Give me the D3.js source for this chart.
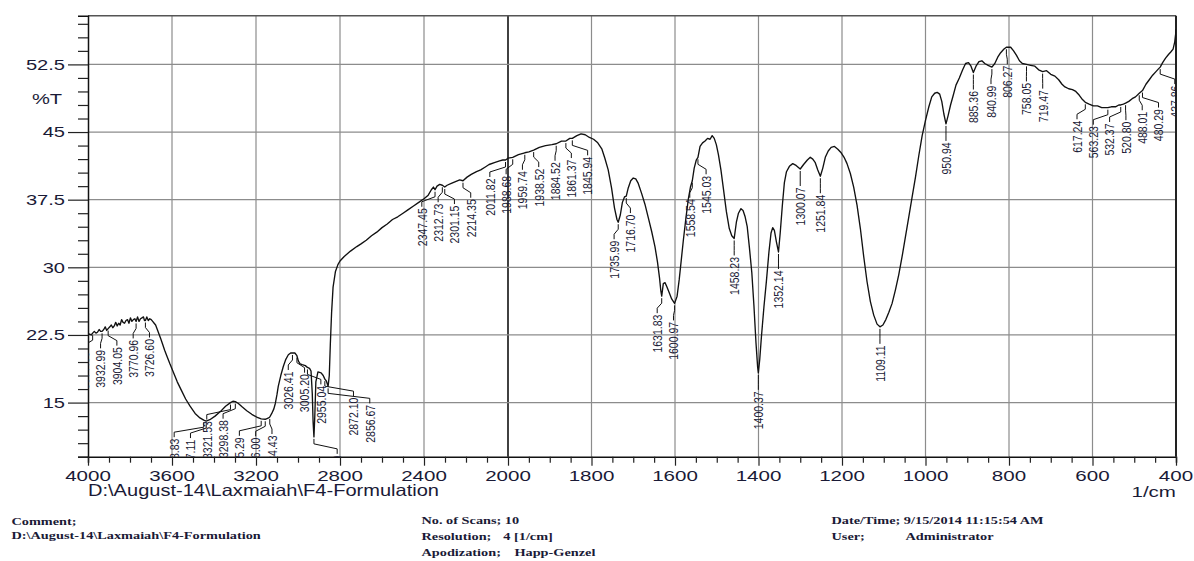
<!DOCTYPE html>
<html>
<head>
<meta charset="utf-8">
<script src="https://cdn.jsdelivr.net/npm/d3@7"></script>
<style>
  body { margin: 0; background: #fff; }
  svg text { font-family: "Liberation Sans", Arial, sans-serif; fill: #1a1a36; }
  svg text.meta { font-family: "Liberation Serif", "Times New Roman", serif; font-weight: bold; font-size: 11px; }
</style>
</head>
<body>
<svg id="chart" width="1194" height="561"></svg>
<script>
// FTIR spectrum, F4 formulation: wavenumber (1/cm) and transmittance (%T)
const wavenumber = [
  4000, 3992, 3985, 3977.88, 3970, 3962, 3955, 3947, 3940, 3932.99, 3925, 3918, 3911, 3904.05,
  3896, 3889, 3882, 3875, 3868, 3861, 3854, 3847, 3840, 3833, 3826, 3819, 3812, 3805, 3798,
  3791, 3784, 3777, 3770.96, 3764, 3757, 3750, 3743, 3736, 3731, 3726.60, 3720, 3713, 3706,
  3699, 3692, 3685, 3678, 3670, 3662, 3654, 3645, 3635, 3625, 3610, 3594, 3575, 3554, 3535,
  3514, 3490, 3467, 3448.83, 3437.11, 3420, 3395, 3370, 3345, 3321.53, 3310, 3298.38, 3284,
  3265, 3244, 3220, 3197, 3175.29, 3156.00, 3140, 3134.43, 3125, 3115, 3108, 3100, 3094, 3082,
  3070, 3058, 3046, 3035, 3026.41, 3015, 3005.20, 2998, 2990, 2980, 2965, 2955.04, 2945, 2938,
  2932, 2928, 2924.09, 2920, 2915, 2905, 2890, 2880, 2872.10, 2865, 2856.67, 2851, 2846, 2840,
  2833, 2822, 2810, 2800, 2780, 2750, 2720, 2700, 2675, 2650, 2625, 2600, 2575, 2550, 2525,
  2500, 2475, 2450, 2425, 2400, 2380, 2365, 2355, 2347.45, 2338, 2325, 2312.73, 2301.15, 2290,
  2270, 2250, 2230, 2214.35, 2195, 2175, 2150, 2130, 2110, 2090, 2065, 2040, 2025, 2011.82,
  2000, 1988.68, 1975, 1959.74, 1950, 1938.52, 1925, 1910, 1895, 1884.52, 1872, 1861.37, 1852,
  1845.94, 1835, 1825, 1815, 1805, 1795, 1785, 1775, 1768, 1760, 1752, 1745, 1739, 1735.99,
  1731, 1726, 1721, 1716.70, 1712, 1706, 1700, 1694, 1688, 1680, 1672, 1664, 1656, 1648, 1642,
  1637, 1634, 1631.83, 1628, 1624, 1620, 1614, 1608, 1600.97, 1595, 1590, 1585, 1580, 1574,
  1568, 1563, 1558.54, 1554, 1549, 1545.03, 1540, 1534, 1528, 1522, 1516, 1511, 1506, 1501,
  1496, 1490, 1484, 1477, 1470, 1464, 1458.23, 1453, 1448, 1442, 1437, 1432, 1427, 1422, 1416,
  1411, 1406, 1402, 1400.37, 1397, 1393, 1387, 1381, 1375, 1370, 1366, 1362, 1357, 1352.14,
  1348, 1343, 1338, 1333, 1326, 1318, 1310, 1300.07, 1292, 1283, 1276, 1270, 1264, 1258,
  1251.84, 1246, 1240, 1233, 1226, 1218, 1210, 1202, 1195, 1188, 1180, 1172, 1164, 1156, 1148,
  1140, 1132, 1124, 1116, 1109.11, 1102, 1095, 1088, 1080, 1072, 1064, 1056, 1048, 1040, 1032,
  1024, 1016, 1008, 1000, 992, 985, 978, 972, 966, 961, 956, 950.94, 946, 940, 934, 927, 919,
  911, 904, 897, 891, 885.36, 879, 872, 865, 858, 850, 840.99, 834, 827, 820, 812, 806.27, 796,
  789, 782, 775, 768, 758.05, 748, 738, 729, 719.47, 710, 700, 690, 681, 673, 666, 657, 648,
  640, 632, 624, 617.24, 608, 598, 588, 578, 568, 563.23, 555, 545, 537, 532.37, 526, 520.80,
  513, 505, 497, 488.01, 480.29, 472, 464, 456, 448, 442, 437.86, 432, 425, 418, 412, 407, 403,
  401, 400
];
const transmittance = [
  22.5, 22.6, 22.5, 22.7, 22.9, 22.7, 22.8, 23.1, 22.9, 22.9, 23.1, 23.4, 23.0, 23.2,
  23.4, 23.6, 23.3, 23.5, 23.9, 23.5, 23.8, 23.6, 24.2, 23.9, 23.8, 24.1, 24.2, 23.8, 24.4,
  24.0, 24.2, 24.3, 24.0, 24.5, 24.0, 24.3, 24.4, 24.5, 24.1, 24.1, 24.5, 24.1, 24.3,
  24.2, 24.0, 23.8, 23.6, 23.1, 22.6, 22.1, 21.5, 20.8, 20.2, 19.3, 18.4, 17.3, 16.3, 15.4,
  14.6, 13.8, 13.3, 13.05, 12.95, 13.1, 13.5, 14.0, 14.6, 15.0, 15.15, 15.1, 14.9,
  14.5, 14.1, 13.7, 13.4, 13.2, 13.15, 13.3, 13.4, 13.8, 14.3, 14.9, 15.9, 16.8, 18.0,
  19.0, 19.8, 20.3, 20.5, 20.5, 20.5, 20.2, 19.6, 19.3, 19.2, 19.1, 18.9, 18.8, 18.5,
  16.0, 12.8, 11.2, 13.5, 17.3, 18.4, 18.3, 18.0, 17.6, 17.4, 16.8, 18.0, 21.5, 25.0,
  27.8, 29.5, 30.3, 30.7, 31.2, 31.8, 32.3, 32.6, 33.0, 33.5, 33.9, 34.4, 34.8, 35.3, 35.6,
  36.0, 36.4, 36.8, 37.2, 37.6, 38.0, 38.6, 38.9, 38.6, 39.0, 39.2, 39.1, 38.9, 39.1,
  39.3, 39.5, 39.7, 39.6, 40.0, 40.3, 40.6, 40.8, 41.1, 41.4, 41.6, 41.8, 41.9, 41.9,
  42.1, 42.2, 42.5, 42.7, 42.8, 43.0, 43.3, 43.5, 43.6, 43.7, 44.0, 44.0, 44.3,
  44.3, 44.6, 44.8, 44.7, 44.4, 44.2, 43.8, 43.1, 42.1, 40.8, 38.8, 36.6, 35.3, 35.0,
  35.8, 37.2, 37.8, 37.9, 38.8, 39.6, 39.9, 39.8, 39.3, 38.2, 37.0, 35.5, 34.0, 32.3, 30.6,
  28.8, 27.4, 26.8, 28.2, 28.3, 27.9, 27.2, 26.5, 26.0, 26.8, 28.6, 30.8, 33.0, 35.4,
  37.6, 38.9, 39.6, 41.0, 41.9, 42.2, 43.4, 43.8, 44.0, 44.3, 44.2, 44.6, 44.3, 43.6,
  42.5, 40.8, 38.7, 36.2, 34.3, 33.5, 33.2, 35.0, 36.0, 36.5, 36.3, 35.6, 34.5, 32.3, 29.4,
  25.8, 21.6, 18.9, 18.3, 19.8, 22.3, 25.6, 28.5, 31.7, 33.8, 34.4, 34.1, 32.8, 31.7,
  33.8, 36.8, 39.4, 40.6, 41.2, 41.5, 41.3, 40.9, 41.4, 41.9, 42.2, 42.0, 41.6, 40.8,
  40.1, 41.0, 42.2, 42.9, 43.3, 43.4, 43.1, 42.7, 42.2, 41.5, 40.4, 38.9, 36.9, 34.3, 31.2,
  28.4, 26.2, 24.7, 23.7, 23.4, 23.6, 24.2, 25.0, 26.0, 27.5, 29.2, 31.2, 33.4, 35.6, 37.8,
  40.0, 42.4, 44.6, 46.3, 47.8, 48.9, 49.3, 49.4, 49.2, 48.4, 47.0, 45.9, 46.8, 48.0, 49.0, 50.2, 51.0,
  51.9, 52.6, 52.7, 52.3, 51.6, 52.3, 52.8, 52.9, 52.6, 52.4, 52.2, 52.6, 53.3, 53.8, 54.2, 54.4, 54.4,
  54.0, 53.5, 52.9, 52.6, 52.5, 52.4, 52.3, 51.9, 51.7, 51.8, 51.4, 51.2, 50.8, 50.3, 50.0, 49.8, 49.7,
  49.5, 49.1, 48.6, 48.3, 48.1, 47.9, 47.9, 47.7, 47.7, 47.7, 47.8, 47.8, 48.0, 48.0, 48.1, 48.2,
  48.4, 48.7, 48.9, 49.3, 49.6, 50.3, 50.8, 51.3, 51.7, 52.0, 52.2, 52.7, 53.2, 53.6, 53.9, 54.2, 55.0,
  55.8, 56.4
];

// Peak picks printed by the instrument software
const peakLabels = [
  "3977.88", "3932.99", "3904.05", "3770.96", "3726.60", "3448.83", "3437.11", "3321.53",
  "3298.38", "3175.29", "3156.00", "3134.43", "3026.41", "3005.20", "2955.04", "2924.09",
  "2872.10", "2856.67", "2347.45", "2312.73", "2301.15", "2214.35", "2011.82", "1988.68",
  "1959.74", "1938.52", "1884.52", "1861.37", "1845.94", "1735.99", "1716.70", "1631.83",
  "1600.97", "1558.54", "1545.03", "1458.23", "1400.37", "1352.14", "1300.07", "1251.84",
  "1109.11", "950.94", "885.36", "840.99", "806.27", "758.05", "719.47", "617.24", "563.23",
  "532.37", "520.80", "488.01", "480.29", "437.86"
];

const xTickValues = [4000, 3600, 3200, 2800, 2400, 2000, 1800, 1600, 1400, 1200, 1000, 800, 600, 400];
const yTickValues = [15, 22.5, 30, 37.5, 45, 52.5];
const yMinorStep = 1.5;

const svg = d3.select("#chart");
const pLeft = 88, pRight = 1176, pTop = 15.7, pBottom = 456.7;

// Two-segment wavenumber axis: 2x expansion below 2000 1/cm
const x = d3.scaleLinear().domain([4000, 2000, 400]).range([pLeft, 508, pRight]);
const y = d3.scaleLinear().domain([9, 57.9]).range([pBottom, pTop]);

svg.append("defs").append("clipPath").attr("id", "plotClip")
  .append("rect").attr("x", pLeft).attr("y", pTop).attr("width", pRight - pLeft).attr("height", pBottom - pTop);

// grid
const grid = svg.append("g");
xTickValues.filter(v => v !== 4000 && v !== 400).forEach(v => {
  grid.append("line")
    .attr("x1", x(v)).attr("x2", x(v)).attr("y1", pTop).attr("y2", pBottom)
    .attr("stroke", v === 2000 ? "#111" : "#8c8c8c")
    .attr("stroke-width", v === 2000 ? 1.6 : 1.2);
});
yTickValues.forEach(v => {
  grid.append("line")
    .attr("x1", pLeft).attr("x2", pRight).attr("y1", y(v)).attr("y2", y(v))
    .attr("stroke", "#8c8c8c").attr("stroke-width", 1.2);
});

// frame
svg.append("line").attr("x1", pLeft).attr("x2", pRight).attr("y1", pTop).attr("y2", pTop)
  .attr("stroke", "#555").attr("stroke-width", 1.4);
svg.append("line").attr("x1", pRight).attr("x2", pRight).attr("y1", pTop).attr("y2", pBottom)
  .attr("stroke", "#222").attr("stroke-width", 2);

// y axis with minor ticks
const yMinor = d3.range(9, 57.9 + 1e-6, yMinorStep);
const yAxis = d3.axisLeft(y).tickValues(yMinor).tickSize(10).tickFormat("");
const gy = svg.append("g").attr("transform", `translate(${pLeft},0)`).call(yAxis);
gy.select(".domain").attr("stroke", "#111").attr("stroke-width", 1.5);
gy.selectAll(".tick line").attr("stroke", "#222").attr("stroke-width", 1.2)
  .attr("x2", d => yTickValues.includes(+d.toFixed(1)) ? -20 : -10);
yTickValues.forEach(v => {
  svg.append("text").attr("transform", `translate(65,${y(v) + 5.3}) scale(1.34,1)`)
    .attr("text-anchor", "end").attr("font-size", 15).text(v);
});
svg.append("text").attr("transform", `translate(62,104) scale(1.34,1)`)
  .attr("text-anchor", "end").attr("font-size", 15).text("%T");

// x axis: minor ticks every 100 above 2000, every 50 below
const xMinor = d3.range(4000, 2000, -100).concat(d3.range(2000, 399, -50));
const xAxis = d3.axisBottom(x).tickValues(xMinor).tickSize(6).tickFormat("");
const gx = svg.append("g").attr("transform", `translate(0,${pBottom})`).call(xAxis);
gx.select(".domain").attr("stroke", "#111").attr("stroke-width", 1.5);
gx.selectAll(".tick line").attr("stroke", "#222").attr("stroke-width", 1.2)
  .attr("y2", d => xTickValues.includes(d) ? 9 : 6);
xTickValues.forEach(v => {
  svg.append("text").attr("transform", `translate(${x(v)},480.5) scale(1.37,1)`)
    .attr("text-anchor", "middle").attr("font-size", 15).text(v);
});
svg.append("text").attr("transform", `translate(${pRight},497) scale(1.37,1)`)
  .attr("text-anchor", "end").attr("font-size", 15).text("1/cm");
svg.append("text").attr("x", pLeft).attr("y", 495.5).attr("font-size", 16.5)
  .attr("textLength", 351).attr("lengthAdjust", "spacingAndGlyphs")
  .text("D:\\August-14\\Laxmaiah\\F4-Formulation");

// spectrum
const points = wavenumber.map((w, i) => [w, transmittance[i]]);
const plot = svg.append("g").attr("clip-path", "url(#plotClip)");
plot.append("path").datum(points)
  .attr("fill", "none").attr("stroke", "#111").attr("stroke-width", 1.35)
  .attr("stroke-linejoin", "round")
  .attr("d", d3.line().x(d => x(d[0])).y(d => y(d[1])));

// peak labels: spread horizontally so neighbouring labels do not collide
function spread(xs, gap) {
  let clusters = xs.map((v, i) => ({ ids: [i], sum: v }));
  const start = c => c.sum / c.ids.length - (c.ids.length - 1) * gap / 2;
  let merged = true;
  while (merged) {
    merged = false;
    for (let i = 0; i < clusters.length - 1; i++) {
      const a = clusters[i], b = clusters[i + 1];
      if (start(a) + a.ids.length * gap > start(b)) {
        clusters.splice(i, 2, { ids: a.ids.concat(b.ids), sum: a.sum + b.sum });
        merged = true;
        break;
      }
    }
  }
  const out = [];
  clusters.forEach(c => { const s = start(c); c.ids.forEach((id, k) => out[id] = s + k * gap); });
  return out;
}

const interpT = w => {
  for (let i = 0; i < wavenumber.length - 1; i++) {
    const a = wavenumber[i], b = wavenumber[i + 1];
    if (w <= a && w >= b) {
      const t = (a - w) / (a - b);
      return transmittance[i] + t * (transmittance[i + 1] - transmittance[i]);
    }
  }
  return transmittance[transmittance.length - 1];
};

const peaks = peakLabels.map(s => ({ text: s, w: +s }))
  .map(p => ({ ...p, px: x(p.w), py: y(interpT(p.w)) }));
const lxs = spread(peaks.map(p => p.px), 16.3);
peaks.forEach((p, i) => {
  const lx = lxs[i];
  plot.append("path")
    .attr("fill", "none").attr("stroke", "#111").attr("stroke-width", 1)
    .attr("d", `M${p.px},${p.py + 2}L${p.px},${p.py + 7}L${lx},${p.py + 12}L${lx},${p.py + 17}`);
  plot.append("text")
    .attr("transform", `translate(${lx + 0.2},${p.py + 18.5}) scale(1.22,1) rotate(-90)`)
    .attr("text-anchor", "end").attr("dy", "0.36em").attr("font-size", 10.5)
    .text(p.text);
});

// acquisition details, three columns
const metaScale = 1.3;
function metaColumn(x0) {
  return svg.append("g").attr("transform", `translate(${x0},0) scale(${metaScale},1)`);
}
function metaText(g, tx, ty, s) {
  return g.append("text").attr("class", "meta").attr("x", tx).attr("y", ty).text(s);
}
const col1 = metaColumn(11.5);
metaText(col1, 0, 525, "Comment;");
metaText(col1, 0, 539, "D:\\August-14\\Laxmaiah\\F4-Formulation");

const col2 = metaColumn(421.5);
metaText(col2, 0, 524, "No. of Scans; 10");
const res = metaText(col2, 0, 540, "Resolution;");
metaText(col2, res.node().getComputedTextLength() * 1.17, 540, "4 [1/cm]");
const apo = metaText(col2, 0, 556, "Apodization;");
metaText(col2, apo.node().getComputedTextLength() * 1.17, 556, "Happ-Genzel");

const col3 = metaColumn(831.5);
metaText(col3, 0, 524, "Date/Time; 9/15/2014 11:15:54 AM");
metaText(col3, 0, 540, "User;");
const probe = metaText(col3, 0, -50, "Date/Time; ");
const userOffset = probe.node().getComputedTextLength() + 4;
probe.remove();
metaText(col3, userOffset, 540, "Administrator");
</script>
</body>
</html>
